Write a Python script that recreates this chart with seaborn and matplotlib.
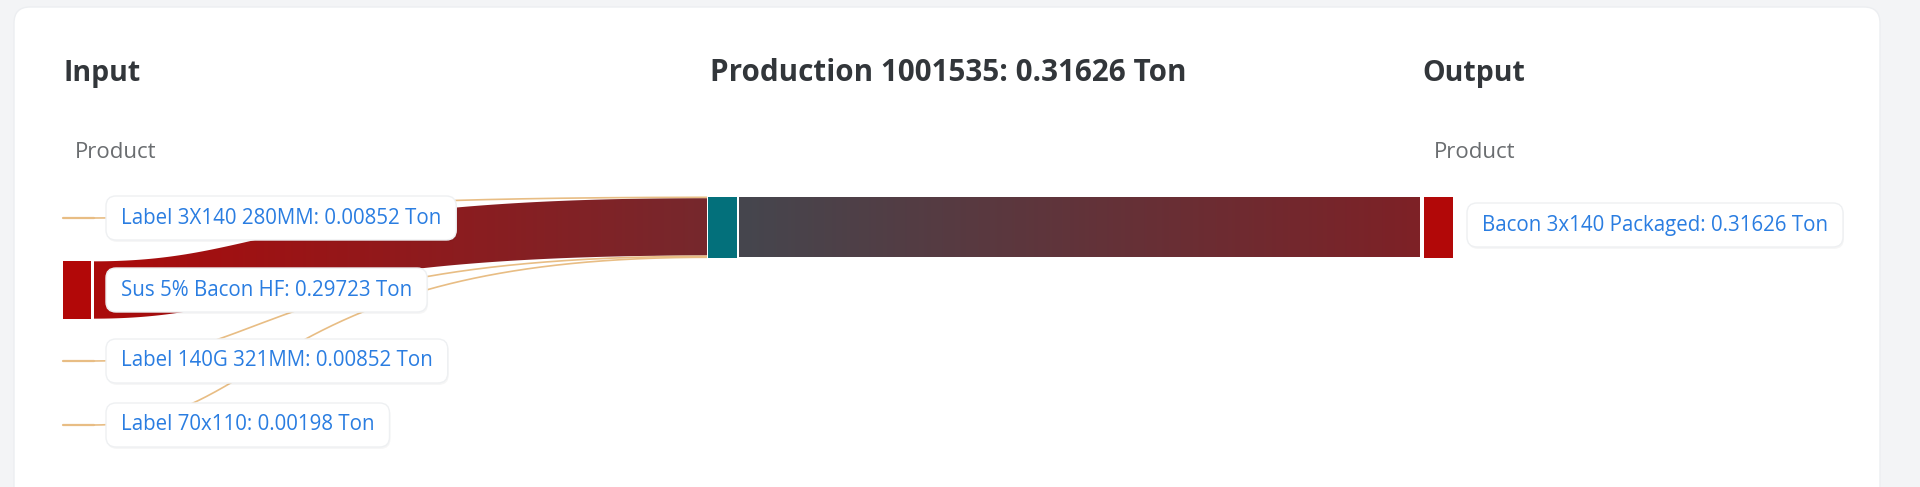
import numpy as np
import matplotlib
matplotlib.use("Agg")
import matplotlib.pyplot as plt
from matplotlib.patches import FancyBboxPatch, Rectangle, Polygon
from matplotlib.colors import to_rgb
import seaborn as sns

# Chart data
production_id = "1001535"
production_total = 0.31626
input_names = ["Label 3X140 280MM", "Sus 5% Bacon HF", "Label 140G 321MM", "Label 70x110"]
input_values = [0.00852, 0.29723, 0.00852, 0.00198]
output_names = ["Bacon 3x140 Packaged"]
output_values = [0.31626]
unit = "Ton"

sns.set_theme(style="white")
plt.rcParams["font.family"] = ["Open Sans", "DejaVu Sans"]

W, H = 1920, 487
fig = plt.figure(figsize=(19.2, 4.87), dpi=100, facecolor="#f3f4f6")
ax = fig.add_axes([0, 0, 1, 1])
ax.axis("off")

# white card
ax.add_patch(FancyBboxPatch((14, 7), 1866, 540, boxstyle="round,pad=0,rounding_size=16",
                            fc="white", ec="#eceef1", lw=1, zorder=0))

# layout (pixels)
node_w = 28
x_in, x_prod, x_out = 63, 708, 1424
band_top, band_h = 196.5, 61
px_per_ton = band_h / production_total
in_centers = [218, 290, 361, 425]
tan = "#e8bd84"
red = "#b20808"


def bez(p0, p1, p2, p3, n=200):
    t = np.linspace(0, 1, n)[:, None]
    p0, p1, p2, p3 = map(np.array, (p0, p1, p2, p3))
    return (1 - t) ** 3 * p0 + 3 * (1 - t) ** 2 * t * p1 + 3 * (1 - t) * t ** 2 * p2 + t ** 3 * p3


def link_curve(x0, y0, x1, y1):
    cx = x0 + 0.285 * (x1 - x0)
    return bez((x0, y0), (cx, y0), (cx, y1), (x1, y1))


def gradient_fill(verts, x0, x1, c0, c1, z):
    poly = Polygon(verts, closed=True, fc="none", ec="none")
    ax.add_patch(poly)
    t = np.linspace(0, 1, 256)[:, None]
    rgb = (1 - t) * np.array(to_rgb(c0)) + t * np.array(to_rgb(c1))
    ys = verts[:, 1]
    im = ax.imshow(rgb[None, :, :], extent=(x0, x1, ys.max(), ys.min()),
                   aspect="auto", interpolation="bilinear", zorder=z)
    im.set_clip_path(poly)


# input links and nodes
lx0, lx1 = x_in + node_w + 3, x_prod - 1
y_cursor = band_top
for name, val, yc in zip(input_names, input_values, in_centers):
    h = val * px_per_ton
    s_top, s_bot = yc - h / 2, yc + h / 2
    t_top, t_bot = y_cursor, y_cursor + h
    y_cursor += h
    if h > 4:
        top = link_curve(lx0, s_top, lx1, t_top)
        bot = link_curve(lx0, s_bot, lx1, t_bot)
        verts = np.vstack([top, bot[::-1]])
        gradient_fill(verts, lx0, lx1, "#ab0b0b", "#76282d", 2)
        ax.add_patch(Rectangle((x_in, s_top), node_w, h, fc=red, ec="none", zorder=3))
    else:
        mid = link_curve(lx0, yc, lx1, (t_top + t_bot) / 2)
        ax.plot(mid[:, 0], mid[:, 1], color=tan, lw=1.2, zorder=2.5, solid_capstyle="butt")
        ax.plot([x_in, lx0], [yc, yc], color=tan, lw=1.6, zorder=3)

# production node and output band
ax.add_patch(Rectangle((x_prod, band_top), node_w + 1, band_h, fc="#03707b", ec="none", zorder=3))
ob = np.array([[x_prod + node_w + 3, band_top], [x_out - 4, band_top],
               [x_out - 4, band_top + band_h], [x_prod + node_w + 3, band_top + band_h]])
gradient_fill(ob, ob[0, 0], ob[1, 0], "#45464e", "#7e2126", 2)
y_cursor = band_top
for val in output_values:
    h = val * px_per_ton
    ax.add_patch(Rectangle((x_out, y_cursor), node_w + 1, h, fc=red, ec="none", zorder=3))
    y_cursor += h

# headers
hdr = dict(fontweight="bold", color="#32363a", va="center")
ax.text(63, 73, "Input", ha="left", fontsize=20.5, **hdr)
ax.text(948, 73, f"Production {production_id}: {production_total:.5f} {unit}", ha="center",
        fontsize=21.3, **hdr)
ax.text(1422, 73, "Output", ha="left", fontsize=20.5, **hdr)
ax.text(75, 153, "Product", ha="left", va="center", fontsize=16, color="#6a6d70")
ax.text(1434, 153, "Product", ha="left", va="center", fontsize=16, color="#6a6d70")

ax.set_xlim(0, W)
ax.set_ylim(H, 0)

# labels with rounded white boxes
fig.canvas.draw()
renderer = fig.canvas.get_renderer()
inv = ax.transData.inverted()


def label(x, y, s):
    t = ax.text(x, y, s, ha="left", va="center", fontsize=14.8, color="#2a7de1", zorder=6)
    bb = t.get_window_extent(renderer)
    (bx0, _), (bx1, _) = inv.transform([[bb.x0, bb.y0], [bb.x1, bb.y1]])
    w = bx1 - bx0 + 30
    ax.add_patch(FancyBboxPatch((x - 15 + 1, y - 22 + 2), w, 44,
                                boxstyle="round,pad=0,rounding_size=10",
                                fc="#000000", alpha=0.035, ec="none", zorder=4))
    ax.add_patch(FancyBboxPatch((x - 15, y - 22), w, 44,
                                boxstyle="round,pad=0,rounding_size=10",
                                fc="white", ec="#eef0f2", lw=1, zorder=5))


for name, val, yc in zip(input_names, input_values, in_centers):
    label(121, yc, f"{name}: {val:.5f} {unit}")
for name, val in zip(output_names, output_values):
    label(1482, 225, f"{name}: {val:.5f} {unit}")

fig.savefig("out.png", dpi=100, facecolor=fig.get_facecolor())
